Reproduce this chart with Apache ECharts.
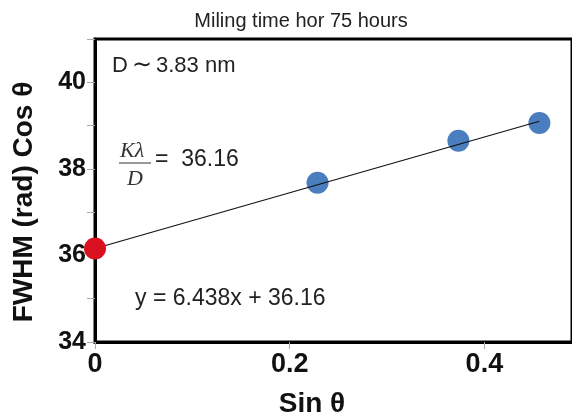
<!DOCTYPE html>
<html>
<head>
<meta charset="utf-8">
<script src="https://cdn.jsdelivr.net/npm/echarts@6/dist/echarts.min.js"></script>
<style>
  html, body { margin: 0; padding: 0; background: #fff; }
  #chart { width: 572px; height: 419px; }
</style>
</head>
<body>
<div id="chart"></div>
<script>
// values
var blueX = [0.2286, 0.3733, 0.4565];
var blueY = [37.68, 38.65, 39.06];
var interceptPoint = [0, 36.16];
var fitLine = [[0, 36.16], [0.4565, 39.1]];
var xTicks = [0, 0.2, 0.4];
var yLabels = [34, 36, 38, 40];

var myChart = echarts.init(document.getElementById("chart"));

var bluePoints = [];
for (var i = 0; i < blueX.length; i++) {
  bluePoints.push([blueX[i], blueY[i]]);
}

var font = "'Liberation Sans', Arial, sans-serif";
var serif = "'Liberation Serif', 'Times New Roman', serif";

myChart.setOption({
  animation: false,
  backgroundColor: "#fff",
  title: {
    text: "Miling time hor 75 hours",
    left: 296,
    top: 6,
    textAlign: "center",
    textStyle: {
      fontFamily: font,
      fontSize: 20,
      fontWeight: "normal",
      color: "#222"
    }
  },
  grid: {
    left: 95,
    right: -3,
    top: 39,
    bottom: 77,
    show: true,
    borderColor: "#000",
    borderWidth: 3
  },
  xAxis: {
    type: "value",
    min: 0,
    max: 0.49,
    interval: 0.2,
    splitLine: { show: false },
    axisLine: { show: true, lineStyle: { color: "#000", width: 3 } },
    axisTick: { show: true, length: 7, lineStyle: { color: "#aaa", width: 1 } },
    axisLabel: {
      margin: 9,
      fontFamily: font,
      fontSize: 27,
      fontWeight: "bold",
      color: "#111",
      showMaxLabel: false,
      formatter: function(v) {
        for (var k = 0; k < xTicks.length; k++) {
          if (Math.abs(v - xTicks[k]) < 1e-6) return String(xTicks[k]);
        }
        return "";
      }
    }
  },
  yAxis: {
    type: "value",
    min: 34,
    max: 41,
    interval: 1,
    splitLine: { show: false },
    axisLine: { show: true, lineStyle: { color: "#000", width: 3 } },
    axisTick: { show: true, length: 8, lineStyle: { color: "#aaa", width: 1 } },
    axisLabel: {
      margin: 9,
      fontFamily: font,
      fontSize: 25,
      fontWeight: "bold",
      color: "#111",
      formatter: function(v) {
        return yLabels.indexOf(v) >= 0 ? String(v) : "";
      }
    }
  },
  series: [
    {
      name: "fit",
      type: "line",
      data: fitLine,
      symbol: "none",
      lineStyle: { color: "#111", width: 1.2 },
      z: 3
    },
    {
      name: "points",
      type: "scatter",
      data: bluePoints,
      symbolSize: 22,
      itemStyle: { color: "#4a7ebf", opacity: 1 },
      z: 2
    },
    {
      name: "intercept",
      type: "scatter",
      data: [interceptPoint],
      symbolSize: 22,
      itemStyle: { color: "#d9101f", opacity: 1 },
      z: 4
    }
  ],
  graphic: [
    {
      type: "text",
      x: 24,
      y: 202,
      rotation: Math.PI / 2,
      style: {
        text: "FWHM (rad) Cos θ",
        font: "bold 28px " + font,
        fill: "#111",
        align: "center",
        verticalAlign: "middle"
      }
    },
    {
      type: "text",
      x: 312,
      y: 404,
      style: {
        text: "Sin θ",
        font: "bold 28px " + font,
        fill: "#111",
        align: "center",
        verticalAlign: "middle"
      }
    },
    {
      type: "text",
      left: 112,
      top: 54,
      style: {
        text: "D{t|∼}3.83 nm",
        font: "22px " + font,
        fill: "#222",
        rich: {
          t: { fontSize: 24, fontFamily: "DejaVu Sans", padding: [0, 4, 0, 4] }
        }
      }
    },
    {
      type: "text",
      left: 120,
      top: 140,
      style: { text: "Kλ", font: "italic 22px " + serif, fill: "#333" }
    },
    {
      type: "line",
      shape: { x1: 119, y1: 163, x2: 151, y2: 163 },
      style: { stroke: "#333", lineWidth: 1 }
    },
    {
      type: "text",
      left: 127,
      top: 168,
      style: { text: "D", font: "italic 22px " + serif, fill: "#333" }
    },
    {
      type: "text",
      left: 155,
      top: 148,
      style: { text: "=  36.16", font: "23px " + font, fill: "#222" }
    },
    {
      type: "text",
      left: 135,
      top: 287,
      style: { text: "y = 6.438x + 36.16", font: "23px " + font, fill: "#222" }
    }
  ]
});
</script>
</body>
</html>
